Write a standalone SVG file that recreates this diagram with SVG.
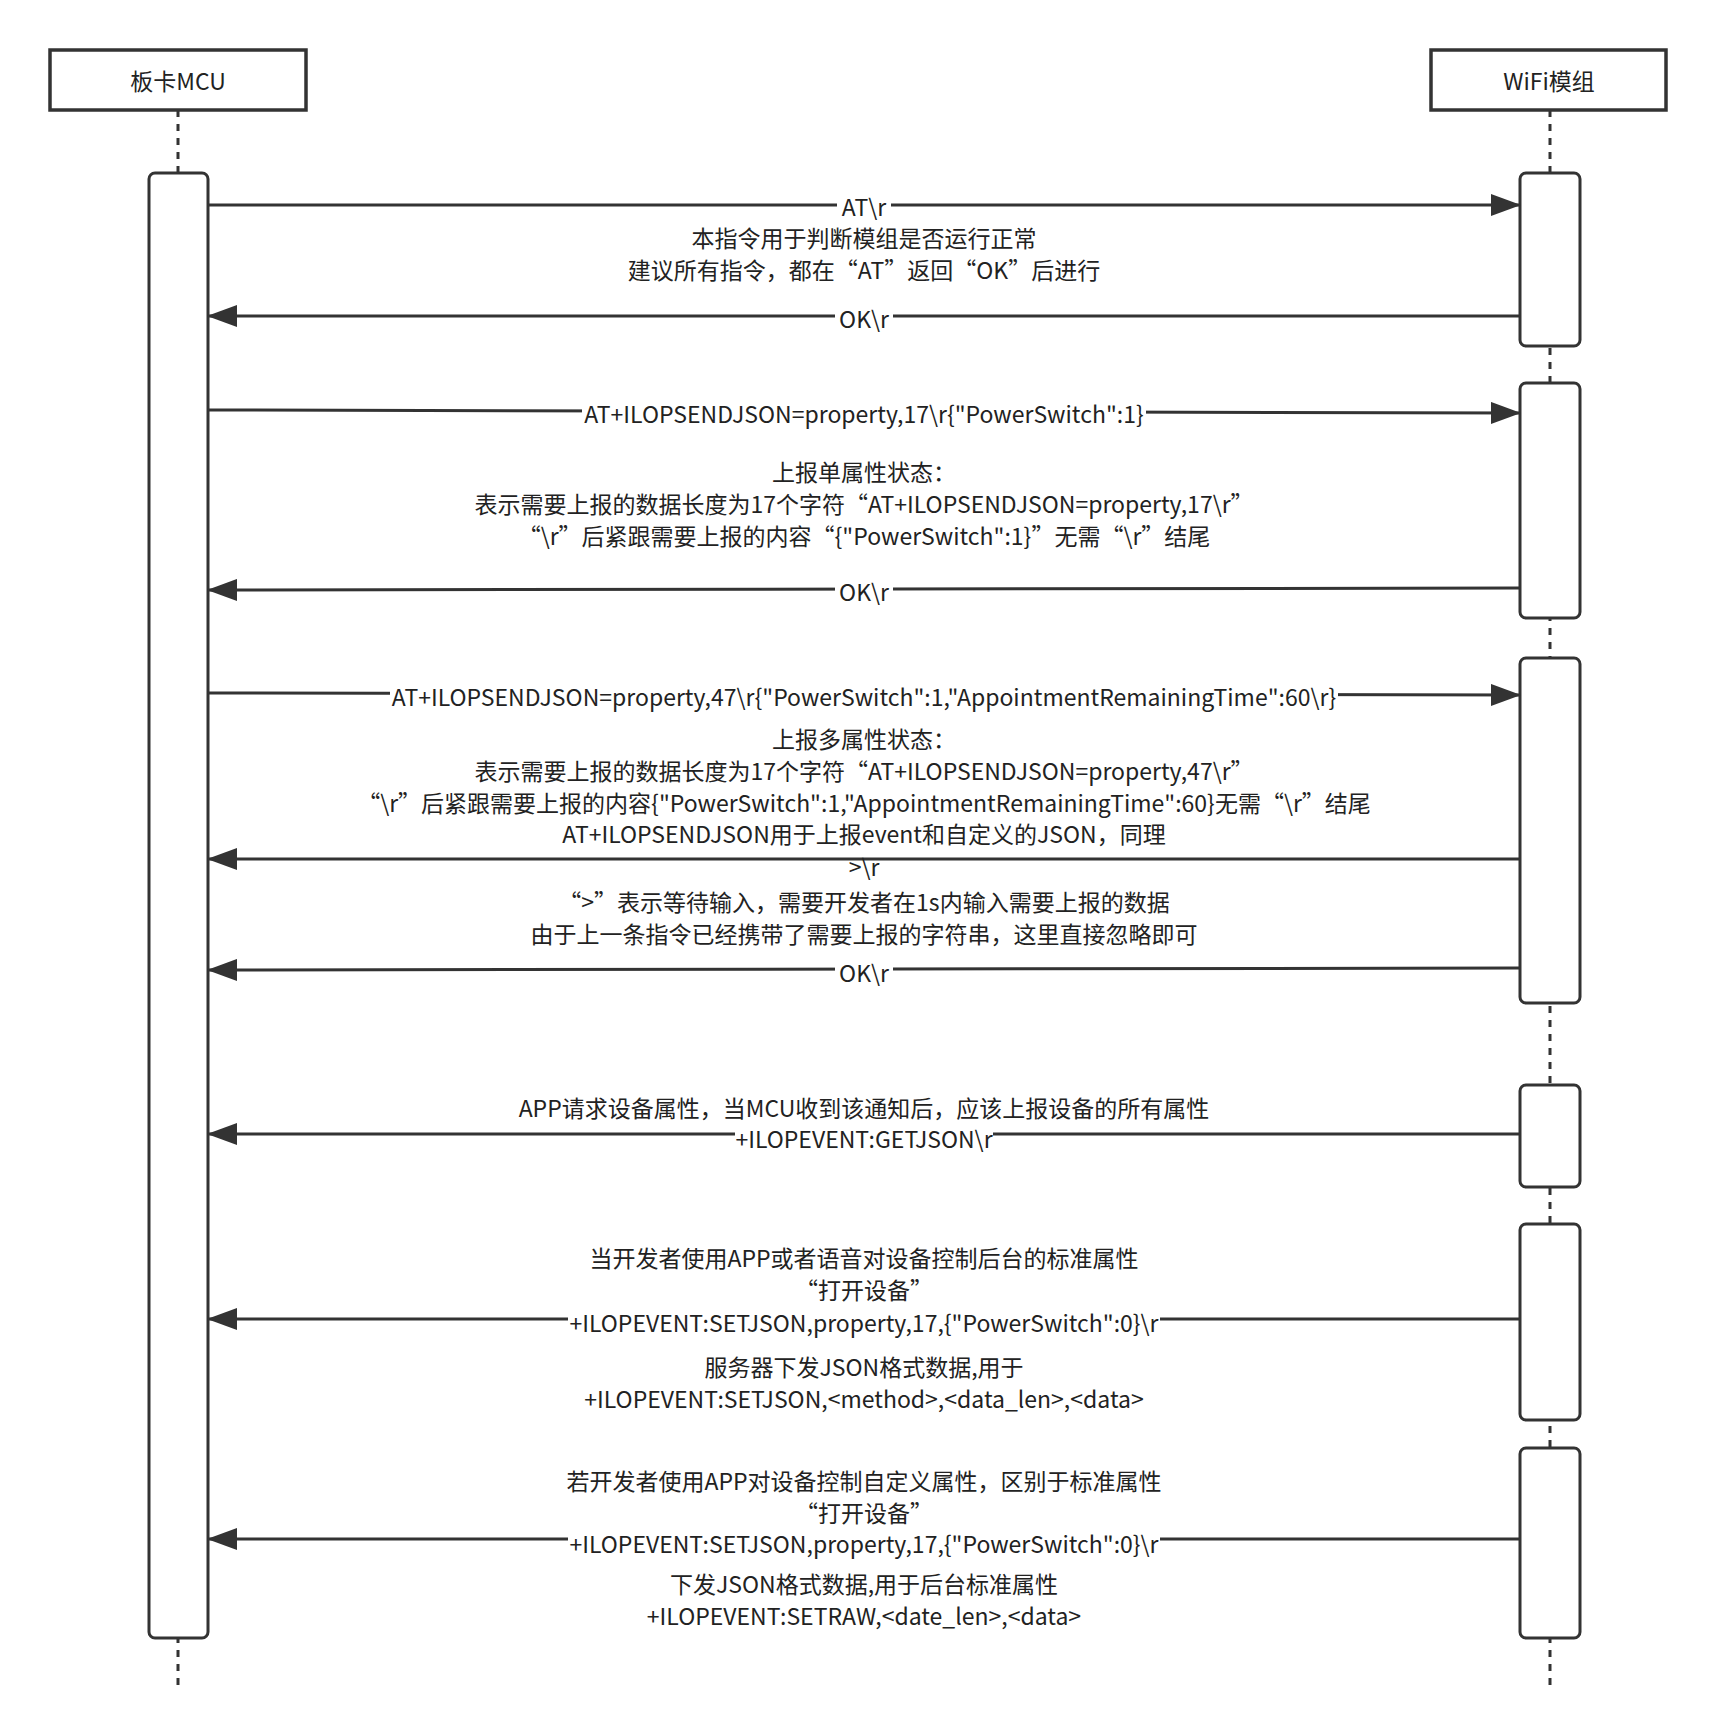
<svg xmlns="http://www.w3.org/2000/svg" width="1718" height="1730" viewBox="0 0 1718 1730">
<style>
text{font-family:"Noto Sans CJK SC","Liberation Sans",sans-serif;font-size:23px;fill:#222;text-anchor:middle;dominant-baseline:central}
.box{fill:#fff;stroke:#333;stroke-width:3.5}
.act{fill:#fff;stroke:#333;stroke-width:3;}
.life{stroke:#333;stroke-width:3;stroke-dasharray:7 7}
.msg{stroke:#333;stroke-width:3;fill:none;marker-end:url(#ah)}
.bg{fill:#fff}
</style>
<defs>
<marker id="ah" markerUnits="userSpaceOnUse" markerWidth="30" markerHeight="22" refX="29" refY="11" orient="auto"><path d="M0,0 L30,11 L0,22 Z" fill="#333"/></marker>
</defs>
<rect width="1718" height="1730" fill="#fff"/>
<g id="lifelines">
<line class="life" x1="178" y1="110" x2="178" y2="1690"/>
<line class="life" x1="1550" y1="110" x2="1550" y2="1690"/>
</g>
<g id="mcu"><rect class="box" x="50" y="50" width="256" height="60"/><text x="178" y="80">板卡MCU</text>
<rect class="act" x="149" y="173" width="59" height="1465" rx="6"/></g>
<g id="wifi"><rect class="box" x="1431" y="50" width="235" height="60"/><text x="1549" y="80">WiFi模组</text>
<rect class="act" x="1520" y="173" width="60" height="173" rx="6"/>
<rect class="act" x="1520" y="383" width="60" height="235" rx="6"/>
<rect class="act" x="1520" y="658" width="60" height="345" rx="6"/>
<rect class="act" x="1520" y="1085" width="60" height="102" rx="6"/>
<rect class="act" x="1520" y="1224" width="60" height="196" rx="6"/>
<rect class="act" x="1520" y="1448" width="60" height="190" rx="6"/></g>
<g id="connectors">
<line class="msg" x1="208" y1="205" x2="1520" y2="205"/>
<line class="msg" x1="1520" y1="316" x2="208" y2="316"/>
<line class="msg" x1="208" y1="410" x2="1520" y2="413"/>
<line class="msg" x1="1520" y1="588" x2="208" y2="590"/>
<line class="msg" x1="208" y1="693" x2="1520" y2="695"/>
<line class="msg" x1="1520" y1="859" x2="208" y2="859"/>
<line class="msg" x1="1520" y1="968" x2="208" y2="970"/>
<line class="msg" x1="1520" y1="1134" x2="208" y2="1134"/>
<line class="msg" x1="1520" y1="1319" x2="208" y2="1319"/>
<line class="msg" x1="1520" y1="1539" x2="208" y2="1539"/>
</g>
<g id="labelbg">
<rect class="bg" x="837" y="196" width="54" height="20"/>
<rect class="bg" x="835" y="307" width="58" height="20"/>
<rect class="bg" x="582" y="402" width="564" height="20"/>
<rect class="bg" x="835" y="580" width="58" height="20"/>
<rect class="bg" x="390" y="685" width="948" height="20"/>
<rect class="bg" x="843" y="861" width="42" height="12"/>
<rect class="bg" x="835" y="960" width="58" height="20"/>
<rect class="bg" x="735" y="1126" width="258" height="20"/>
<rect class="bg" x="568" y="1311" width="592" height="20"/>
<rect class="bg" x="568" y="1531" width="592" height="20"/>
</g>
<g id="labels">
<text x="864" y="206">AT\r</text>
<text x="864" y="237">本指令用于判断模组是否运行正常</text>
<text x="864" y="269">建议所有指令，都在“AT”返回“OK”后进行</text>
<text x="864" y="318">OK\r</text>
<text x="864" y="413">AT+ILOPSENDJSON=property,17\r{"PowerSwitch":1}</text>
<text x="864" y="471">上报单属性状态：</text>
<text x="864" y="503">表示需要上报的数据长度为17个字符“AT+ILOPSENDJSON=property,17\r”</text>
<text x="864" y="535">“\r”后紧跟需要上报的内容“{"PowerSwitch":1}”无需“\r”结尾</text>
<text x="864" y="591">OK\r</text>
<text x="864" y="696">AT+ILOPSENDJSON=property,47\r{"PowerSwitch":1,"AppointmentRemainingTime":60\r}</text>
<text x="864" y="738">上报多属性状态：</text>
<text x="864" y="770">表示需要上报的数据长度为17个字符“AT+ILOPSENDJSON=property,47\r”</text>
<text x="864" y="802">“\r”后紧跟需要上报的内容{"PowerSwitch":1,"AppointmentRemainingTime":60}无需“\r”结尾</text>
<text x="864" y="833">AT+ILOPSENDJSON用于上报event和自定义的JSON，同理</text>
<text x="864" y="866">&gt;\r</text>
<text x="864" y="901">“&gt;”表示等待输入，需要开发者在1s内输入需要上报的数据</text>
<text x="864" y="933">由于上一条指令已经携带了需要上报的字符串，这里直接忽略即可</text>
<text x="864" y="972">OK\r</text>
<text x="864" y="1107">APP请求设备属性，当MCU收到该通知后，应该上报设备的所有属性</text>
<text x="864" y="1138">+ILOPEVENT:GETJSON\r</text>
<text x="864" y="1257">当开发者使用APP或者语音对设备控制后台的标准属性</text>
<text x="864" y="1289">“打开设备”</text>
<text x="864" y="1322">+ILOPEVENT:SETJSON,property,17,{"PowerSwitch":0}\r</text>
<text x="864" y="1366">服务器下发JSON格式数据,用于</text>
<text x="864" y="1398">+ILOPEVENT:SETJSON,&lt;method&gt;,&lt;data_len&gt;,&lt;data&gt;</text>
<text x="864" y="1480">若开发者使用APP对设备控制自定义属性，区别于标准属性</text>
<text x="864" y="1512">“打开设备”</text>
<text x="864" y="1543">+ILOPEVENT:SETJSON,property,17,{"PowerSwitch":0}\r</text>
<text x="864" y="1583">下发JSON格式数据,用于后台标准属性</text>
<text x="864" y="1615">+ILOPEVENT:SETRAW,&lt;date_len&gt;,&lt;data&gt;</text>
</g>
</svg>
